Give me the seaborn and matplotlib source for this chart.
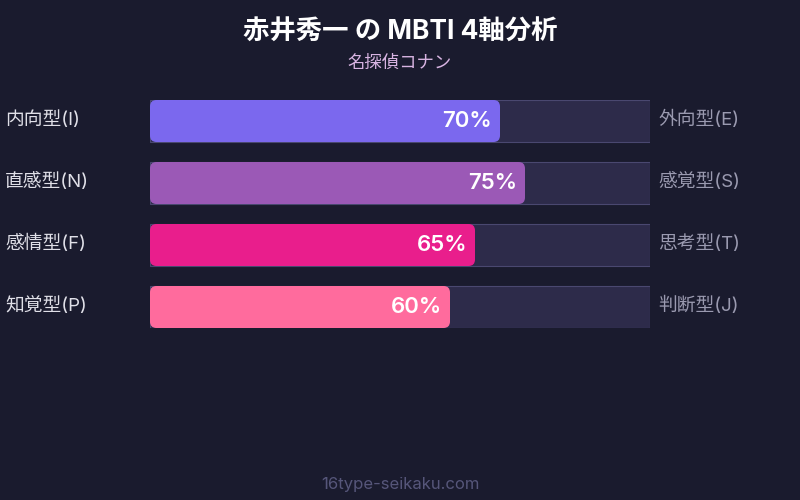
import pandas as pd
import matplotlib.pyplot as plt
import seaborn as sns
from matplotlib.patches import FancyBboxPatch

left_labels = ["内向型(I)", "直感型(N)", "感情型(F)", "知覚型(P)"]
right_labels = ["外向型(E)", "感覚型(S)", "思考型(T)", "判断型(J)"]
scores = [70, 75, 65, 60]
bar_colors = ["#7b68ee", "#9b59b6", "#e91e8c", "#ff6b9d"]

df = pd.DataFrame({"axis": left_labels, "score": scores, "full": [100] * 4})

sns.set_theme(style="white")
plt.rcParams["font.family"] = ["Inter", "Noto Sans CJK JP", "DejaVu Sans"]

bg = "#1a1b2e"
fig = plt.figure(figsize=(8, 5), dpi=100, facecolor=bg)
w = 42 / 62
ax = fig.add_axes([150 / 800, 1 - 328 / 500, 500 / 800, 228 / 500])
ax.set_facecolor(bg)

# background tracks
sns.barplot(data=df, y="axis", x="full", orient="h", color="#2d2b4a",
            saturation=1, width=w, edgecolor="#4a4870", linewidth=0.8, ax=ax)
n_track = len(ax.patches)

# filled bars, then swap for rounded versions
sns.barplot(data=df, y="axis", x="score", orient="h", hue="axis",
            palette=bar_colors, saturation=1, width=w, legend=False, ax=ax)
for p, c in zip(ax.patches[n_track:], bar_colors):
    x0, y0 = p.get_x(), p.get_y()
    bw, bh = p.get_width(), p.get_height()
    p.set_visible(False)
    ax.add_patch(FancyBboxPatch((x0, y0), bw, bh,
                                boxstyle="round,pad=0,rounding_size=1.3",
                                mutation_aspect=0.081,
                                facecolor=c, edgecolor="none", zorder=3))

ax.set_xlim(0, 100)
ax.set_ylim(3 + w / 2, -w / 2)
ax.set_axis_off()

for i, (l, r, s) in enumerate(zip(left_labels, right_labels, scores)):
    ax.text(s - 1.6, i, f"{s}%", ha="right", va="center", color="white",
            fontsize=16, fontweight="semibold", zorder=4)
    fig.text(5 / 800, 1 - (120 + 62 * i) / 500, l, ha="left", va="center",
             color="#e0e0e8", fontsize=13.5)
    fig.text(658 / 800, 1 - (120 + 62 * i) / 500, r, ha="left", va="center",
             color="#9a9ab0", fontsize=13.5)

fig.text(0.5, 1 - 33 / 500, "赤井秀一 の MBTI 4軸分析", ha="center", va="center",
         color="white", fontsize=19, fontweight="bold")
fig.text(0.5, 1 - 63 / 500, "名探偵コナン", ha="center", va="center",
         color="#d8b4e2", fontsize=12.5)
fig.text(0.5, 1 - 484 / 500, "16type-seikaku.com", ha="center", va="center",
         color="#56567a", fontsize=12)

plt.savefig("out.png", dpi=100, facecolor=bg)
